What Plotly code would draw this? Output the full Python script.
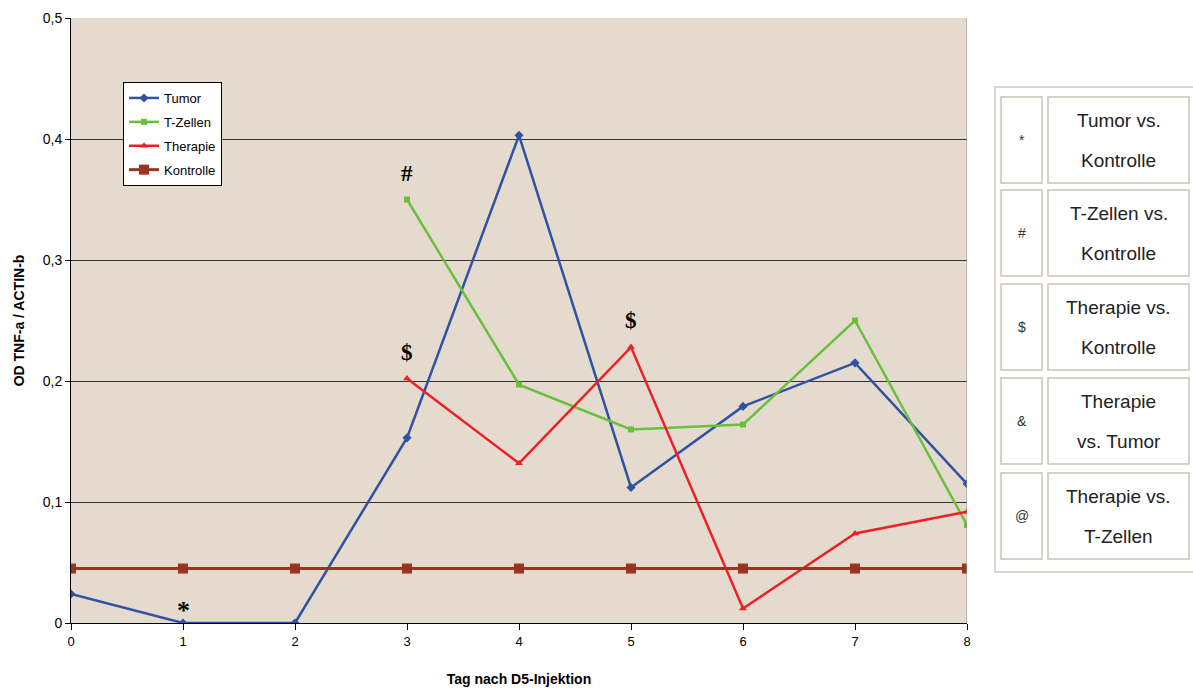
import plotly.graph_objects as go

# Days after D5 injection
days = [0, 1, 2, 3, 4, 5, 6, 7, 8]
days_treated = [3, 4, 5, 6, 7, 8]

# OD TNF-a / ACTIN-b per group
tumor = [0.024, 0.0, 0.0, 0.153, 0.403, 0.112, 0.179, 0.215, 0.115]
t_zellen = [0.350, 0.197, 0.160, 0.164, 0.250, 0.081]
therapie = [0.202, 0.132, 0.228, 0.012, 0.074, 0.092]
kontrolle = [0.045] * 9

y_ticks = [0, 0.1, 0.2, 0.3, 0.4, 0.5]
y_ticktext = ["0", "0,1", "0,2", "0,3", "0,4", "0,5"]

# significance marks: (x, y, symbol)
sig_marks = [(1, 0.0, "*"), (3, 0.350, "#"), (3, 0.202, "$"), (5, 0.228, "$")]

# key table for the significance symbols
table_symbols = ["*", "#", "$", "&", "@"]
table_lines = [
    ("Tumor vs.", "Kontrolle"),
    ("T-Zellen vs.", "Kontrolle"),
    ("Therapie vs.", "Kontrolle"),
    ("Therapie", "vs. Tumor"),
    ("Therapie vs.", "T-Zellen"),
]

W, H = 1193, 691
ML, MR, MT, MB = 71, 226, 18, 68
PW, PH = W - ML - MR, H - MT - MB


def px(x):
    return (x - ML) / PW


def py(y):
    return (H - MB - y) / PH


fig = go.Figure()

fig.add_trace(go.Scatter(
    x=days, y=tumor, name="Tumor", mode="lines+markers", legendgroup="a",
    line=dict(color="#2f52a3", width=2.5),
    marker=dict(symbol="diamond", size=7, color="#2f52a3")))
fig.add_trace(go.Scatter(
    x=days_treated, y=t_zellen, name="T-Zellen", mode="lines+markers", legendgroup="b",
    line=dict(color="#6abf3f", width=2.5),
    marker=dict(symbol="square", size=6, color="#6abf3f")))
fig.add_trace(go.Scatter(
    x=days_treated, y=therapie, name="Therapie", mode="lines+markers", legendgroup="c",
    line=dict(color="#ef1f26", width=2.5),
    marker=dict(symbol="triangle-up", size=7, color="#ef1f26")))
fig.add_trace(go.Scatter(
    x=days, y=kontrolle, name="Kontrolle", mode="lines+markers", legendgroup="d",
    line=dict(color="#993322", width=3),
    marker=dict(symbol="square", size=10, color="#993322")))

annotations = []
for x, y, s in sig_marks:
    annotations.append(dict(
        x=x, y=y, xref="x", yref="y", text="<b>%s</b>" % s, showarrow=False,
        xanchor="center", yanchor="bottom", yshift=12 if s != "*" else -4,
        font=dict(family="Liberation Serif", size=26 if s == "*" else 23, color="black")))

shapes = []
# outer frame of the key table
shapes.append(dict(type="rect", xref="paper", yref="paper",
                   x0=px(995), x1=px(1195), y0=py(572), y1=py(87),
                   line=dict(color="#cfc9bd", width=1.5), fillcolor="white", layer="below"))
row_tops = [97, 190, 284, 378, 473]
row_h = 86
for i, top in enumerate(row_tops):
    bot = top + row_h
    for x0, x1 in [(1001, 1042), (1048, 1189)]:
        shapes.append(dict(type="rect", xref="paper", yref="paper",
                           x0=px(x0), x1=px(x1), y0=py(bot), y1=py(top),
                           line=dict(color="#c9c4b8", width=1.5), fillcolor="white",
                           layer="below"))
    mid = (top + bot) / 2
    annotations.append(dict(
        x=px(1021.5), y=py(mid), xref="paper", yref="paper", text=table_symbols[i],
        showarrow=False, xanchor="center", yanchor="middle",
        font=dict(family="Liberation Sans", size=14, color="#333")))
    l1, l2 = table_lines[i]
    for txt, yy in [(l1, mid - 20), (l2, mid + 20)]:
        annotations.append(dict(
            x=px(1118.5), y=py(yy), xref="paper", yref="paper", text=txt,
            showarrow=False, xanchor="center", yanchor="middle",
            font=dict(family="Liberation Sans", size=19, color="#222")))

fig.update_layout(
    width=W, height=H,
    margin=dict(l=ML, r=MR, t=MT, b=MB, autoexpand=False),
    paper_bgcolor="white",
    plot_bgcolor="#e4dbce",
    separators=",.",
    showlegend=True,
    legend=dict(
        x=px(123), y=py(82), xanchor="left", yanchor="top",
        bgcolor="white", bordercolor="black", borderwidth=1,
        font=dict(family="Liberation Sans", size=13, color="black"),
        itemwidth=30, tracegroupgap=4),
    xaxis=dict(
        range=[0, 8], tickvals=days, ticktext=[str(d) for d in days],
        showgrid=False, zeroline=False, automargin=False,
        showline=True, linecolor="black", linewidth=1,
        ticks="outside", ticklen=6, tickcolor="black",
        tickfont=dict(family="Liberation Sans", size=13, color="black"),
        title=dict(text="<b>Tag nach D5-Injektion</b>", standoff=26,
                   font=dict(family="Liberation Sans", size=14, color="black"))),
    yaxis=dict(
        range=[0, 0.5], tickvals=y_ticks, ticktext=y_ticktext,
        showgrid=True, gridcolor="#333333", gridwidth=1,
        zeroline=False, automargin=False,
        showline=True, linecolor="black", linewidth=1,
        ticks="outside", ticklen=5, tickcolor="black",
        tickfont=dict(family="Liberation Sans", size=14, color="black"),
        title=dict(text="<b>OD TNF-a / ACTIN-b</b>", standoff=14,
                   font=dict(family="Liberation Sans", size=14, color="black"))),
    annotations=annotations,
    shapes=shapes,
)

# right border of the plot area
fig.add_shape(type="line", xref="x", yref="paper", x0=8, x1=8, y0=0, y1=1,
              line=dict(color="#999999", width=1))

fig.write_html("out.html")
